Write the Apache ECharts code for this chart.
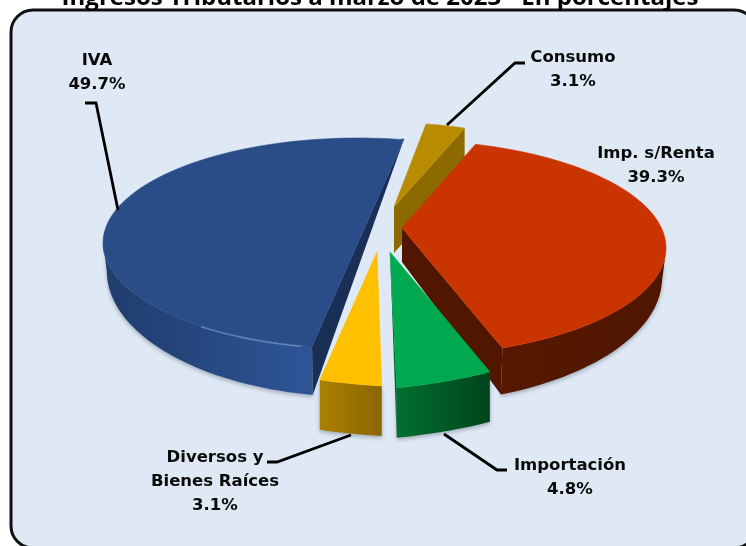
<!DOCTYPE html>
<html><head><meta charset="utf-8">
<style>html,body{margin:0;padding:0;background:#fff}#c{width:746px;height:546px}</style>
<script src="https://cdn.jsdelivr.net/npm/echarts@6/dist/echarts.min.js"></script>
</head><body><div id="c"></div>
<script>
const titleText = 'Ingresos Tributarios a marzo de 2023 - En porcentajes';
const categories = ['Consumo', 'Imp. s/Renta', 'Importación', 'Diversos y\nBienes Raíces', 'IVA'];
const shares = [3.1, 39.3, 4.8, 3.1, 49.7];

// Projection of each exploded slice (perspective look of the original 3-D pie)
const START = 80;
const looks = [
 {apex:[394,207],c:[394,207],a:205,b:84,rot:1,d0:46,d1:0,apexD:46,sx:1,radial:'end',outer:false,
  top:'#b98b00',radialCol:'#8c6a00',wall:['#8c6a00','#8c6a00'],label:[573,70]},
 {apex:[402,228],c:[402,248],a:264,b:108,rot:5,d0:30,d1:18,apexD:34,sx:.985,radial:'end',outer:true,
  top:'#c93400',radialCol:'#511600',wall:['#561800','#4f1600'],label:[656,166]},
 {apex:[390,252],c:[315,254],a:336,b:138,rot:14,d0:50,d1:0,apexD:0,sx:1,radial:'end',outer:true,
  top:'#00a94f',radialCol:'#00602c',wall:['#00702f','#00441c'],label:[570,478]},
 {apex:[377,252],c:[421,242],a:326,b:145,rot:-7,d0:50,d1:0,apexD:0,sx:1,radial:'none',outer:true,
  top:'#ffc000',radialCol:'#8c6a00',wall:['#ab8000','#8a6600'],label:[215,482]},
 {apex:[404,139],c:[358,243],a:255,b:105,rot:0.7,d0:28,d1:21,apexD:0,sx:.985,radial:'start',outer:true,
  top:'#2a4c87',radialCol:'#1a2f56',wall:['#1f3c6c','#2f5597'],label:[97,73]}
];
const drawOrder = [0, 4, 1, 3, 2];
const leaders = [
 [[525,63],[515,63],[447,125]],
 [[85,103],[96,103],[118,210]],
 [[267,462],[277,462],[351,435]],
 [[507,470],[497,470],[444,434]]
];

const total = shares.reduce((s, v) => s + v, 0);
const spans = [];
shares.reduce((acc, v) => {
  spans.push([acc, acc + v / total * 360]);
  return acc + v / total * 360;
}, 0);

function rimPoint(l, deg) {
  const t = deg * Math.PI / 180;
  return [l.c[0] + l.a * Math.cos(t), l.c[1] - l.b * Math.sin(t)];
}
function lowerPoint(l, deg) {
  const p = rimPoint(l, deg);
  const s = Math.max(0, -Math.sin(deg * Math.PI / 180));
  return [l.c[0] + (p[0] - l.c[0]) * l.sx, p[1] + l.d0 + l.d1 * s];
}
function arcAngles(from, to) {
  const out = [], n = Math.max(6, Math.ceil(Math.abs(to - from) / 2));
  for (let i = 0; i <= n; i++) out.push(from + (to - from) * i / n);
  return out;
}

function renderSlice(params, api) {
  const i = api.value(0), l = looks[i];
  const from = START + l.rot - spans[i][0], to = START + l.rot - spans[i][1];
  const children = [];
  const rim = arcAngles(from, to);

  if (l.outer) {
    // visible front part of the outer wall (below the horizon of the ellipse)
    const vis = rim.filter(d => Math.sin(d * Math.PI / 180) <= 0.001);
    const upper = vis.map(d => rimPoint(l, d));
    const lower = vis.slice().reverse().map(d => lowerPoint(l, d));
    children.push({type:'polygon', shape:{points:upper.concat(lower)},
      style:{
        fill:new echarts.graphic.LinearGradient(0,0,1,0,[{offset:0,color:l.wall[0]},{offset:1,color:l.wall[1]}]),
        shadowColor:'rgba(40,50,70,.35)',shadowBlur:4,shadowOffsetY:2}});
  }
  if (l.radial !== 'none') {
    const at = l.radial === 'start' ? from : to;
    const pts = [l.apex, rimPoint(l, at), lowerPoint(l, at)];
    if (l.apexD) pts.push([l.apex[0], l.apex[1] + l.apexD]);
    children.push({type:'polygon', shape:{points:pts}, style:{fill:l.radialCol}});
  }
  children.push({type:'polygon', shape:{points:[l.apex].concat(rim.map(d => rimPoint(l, d)))},
    style:{fill:l.top, stroke:l.top, lineWidth:.6}});
  if (i === 4) {
    // soft bevel glint on the front rim of the largest slice
    children.push({type:'polyline', shape:{points:arcAngles(-128, -103).map(d => {
        const p = rimPoint(l, d); return [p[0], p[1] + 1];
      })}, style:{stroke:'rgba(150,185,235,.5)', lineWidth:1.4, fill:null}});
  }
  children.push({type:'text', z2:20, style:{
    x:l.label[0], y:l.label[1], align:'center', verticalAlign:'middle',
    text:categories[i] + '\n' + shares[i].toFixed(1) + '%',
    font:'bold 16.5px "DejaVu Sans"', lineHeight:24, fill:'#0a0a0a'}});
  return {type:'group', children};
}

const chart = echarts.init(document.getElementById('c'), null, {renderer:'canvas'});
chart.setOption({
  animation:false,
  backgroundColor:'#ffffff',
  title:{text:titleText, left:375, textAlign:'center', top:-19,
    textStyle:{fontFamily:'Open Sans', fontWeight:'bold', fontSize:24, color:'#000'}},
  graphic:[
    {type:'rect', z:-1, silent:true, shape:{x:11,y:10,width:745,height:538,r:22},
      style:{fill:'#dee9f5', stroke:'#111', lineWidth:3}}
  ].concat(leaders.map(p => ({type:'polyline', z:10, silent:true, shape:{points:p},
      style:{stroke:'#000', lineWidth:2.8, fill:null}}))),
  series:[{
    type:'custom', coordinateSystem:'none', silent:true, clip:false,
    renderItem:renderSlice,
    data:drawOrder.map(i => [i])
  }]
});
</script></body></html>
